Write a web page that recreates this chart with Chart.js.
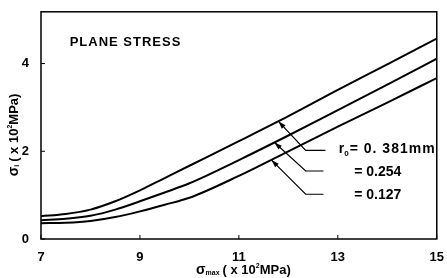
<!DOCTYPE html>
<html>
<head>
<meta charset="utf-8">
<script src="https://cdn.jsdelivr.net/npm/chart.js@4/dist/chart.umd.min.js"></script>
<style>
  html, body { margin: 0; padding: 0; background: #fff; }
  #wrap { width: 447px; height: 278px; }
</style>
</head>
<body>
<div id="wrap"><canvas id="chart" width="447" height="278"></canvas></div>
<script>
// sigma_max (x 10^2 MPa)
const sigmaMax = [7, 7.5, 8, 8.5, 9, 9.5, 10, 11, 12, 13, 14, 15];
// sigma_i (x 10^2 MPa) for each notch radius
const r381 = [0.52, 0.57, 0.67, 0.86, 1.11, 1.39, 1.67, 2.23, 2.8, 3.4, 3.98, 4.57];
const r254 = [0.43, 0.46, 0.53, 0.67, 0.86, 1.06, 1.27, 1.8, 2.36, 2.94, 3.52, 4.11];
const r127 = [0.36, 0.37, 0.41, 0.5, 0.63, 0.78, 0.94, 1.44, 2.0, 2.56, 3.11, 3.67];

const xTicks = [7, 9, 11, 13, 15];
const yTicks = [0, 2, 4];

// leader lines: tip on curve, elbow, end, in data units
const leaders = [
    { tip: [11.8, 2.68], elbow: [12.35, 2.02], end: [12.75, 2.02] },
    { tip: [11.72, 2.2], elbow: [12.35, 1.55], end: [12.71, 1.55] },
    { tip: [11.66, 1.8], elbow: [12.35, 1.02], end: [12.71, 1.02] }
];

const FONT = '"Liberation Sans", Arial, sans-serif';

function pts(ys) {
    return sigmaMax.map((x, i) => ({ x: x, y: ys[i] }));
}

function lineSet(ys) {
    return {
        data: pts(ys),
        borderColor: '#000',
        borderWidth: 2,
        pointRadius: 0,
        cubicInterpolationMode: 'monotone',
        fill: false
    };
}

// draws text parts (with sub / sup pieces), returns width
function richText(ctx, parts, x, y, measureOnly) {
    let cx = x;
    parts.forEach(p => {
        ctx.font = p.font;
        ctx.letterSpacing = p.ls || '0px';
        const w = ctx.measureText(p.t).width;
        if (!measureOnly) ctx.fillText(p.t, cx, y + (p.dy || 0));
        cx += w + (p.gap || 0);
    });
    ctx.letterSpacing = '0px';
    return cx - x;
}

const decorPlugin = {
    id: 'decor',
    afterDraw(chart) {
        const ctx = chart.ctx;
        const xs = chart.scales.x, ys = chart.scales.y;
        const a = chart.chartArea;
        ctx.save();
        ctx.strokeStyle = '#000';
        ctx.fillStyle = '#000';

        // frame
        ctx.lineWidth = 1.5;
        ctx.strokeRect(a.left, a.top, a.right - a.left, a.bottom - a.top);

        // small inner ticks
        ctx.lineWidth = 1;
        xTicks.forEach(v => {
            const px = xs.getPixelForValue(v);
            ctx.beginPath(); ctx.moveTo(px, a.bottom); ctx.lineTo(px, a.bottom - 4); ctx.stroke();
        });
        yTicks.forEach(v => {
            const py = ys.getPixelForValue(v);
            ctx.beginPath(); ctx.moveTo(a.left, py); ctx.lineTo(a.left + 4, py); ctx.stroke();
        });

        // title inside plot
        ctx.font = 'bold 13px ' + FONT;
        ctx.textBaseline = 'middle';
        ctx.textAlign = 'left';
        ctx.letterSpacing = '1px';
        ctx.fillText('PLANE STRESS', xs.getPixelForValue(7.58), ys.getPixelForValue(4.49));
        ctx.letterSpacing = '0px';

        // leader lines with arrow heads
        ctx.lineWidth = 1.2;
        leaders.forEach(l => {
            const tx = xs.getPixelForValue(l.tip[0]), ty = ys.getPixelForValue(l.tip[1]);
            const ex = xs.getPixelForValue(l.elbow[0]), ey = ys.getPixelForValue(l.elbow[1]);
            const nx = xs.getPixelForValue(l.end[0]), ny = ys.getPixelForValue(l.end[1]);
            ctx.beginPath();
            ctx.moveTo(nx, ny); ctx.lineTo(ex, ey); ctx.lineTo(tx, ty);
            ctx.stroke();
            const ang = Math.atan2(ty - ey, tx - ex);
            const len = 8, spread = 0.32;
            ctx.beginPath();
            ctx.moveTo(tx, ty);
            ctx.lineTo(tx - len * Math.cos(ang - spread), ty - len * Math.sin(ang - spread));
            ctx.lineTo(tx - len * Math.cos(ang + spread), ty - len * Math.sin(ang + spread));
            ctx.closePath();
            ctx.fill();
        });

        // radius labels
        const big = 'bold 14px ' + FONT;
        const small = 'bold 8px ' + FONT;
        ctx.textBaseline = 'middle';
        let lx = xs.getPixelForValue(13.02), ly = ys.getPixelForValue(2.04);
        richText(ctx, [
            { t: 'r', font: big },
            { t: '0', font: small, dy: 4, gap: 1 },
            { t: '= 0. 381mm', font: big, ls: '1px' }
        ], lx, ly);
        lx = xs.getPixelForValue(13.33);
        ctx.font = big;
        ctx.fillText('= 0.254', lx, ys.getPixelForValue(1.52));
        ctx.fillText('= 0.127', lx, ys.getPixelForValue(0.99));

        // x axis title
        const tBig = 'bold 13px ' + FONT;
        const tSmall = 'bold 7px ' + FONT;
        const xParts = [
            { t: 'σ', font: 'bold 14px ' + FONT },
            { t: 'max', font: tSmall, dy: 3, gap: 3 },
            { t: '( x 10', font: tBig },
            { t: '2', font: tSmall, dy: -4 },
            { t: 'MPa)', font: tBig }
        ];
        ctx.textBaseline = 'middle';
        richText(ctx, xParts, 196, 270);

        // y axis title (rotated)
        const yParts = [
            { t: 'σ', font: 'bold 14px ' + FONT },
            { t: 'i', font: tSmall, dy: 3, gap: 3 },
            { t: '( x 10', font: tBig },
            { t: '2', font: tSmall, dy: -4 },
            { t: 'MPa)', font: tBig }
        ];
        const yw = richText(ctx, yParts, 0, 0, true);
        ctx.translate(14, 135);
        ctx.rotate(-Math.PI / 2);
        richText(ctx, yParts, -yw / 2, 0);
        ctx.restore();
    }
};

new Chart(document.getElementById('chart'), {
    type: 'line',
    data: {
        datasets: [lineSet(r381), lineSet(r254), lineSet(r127)]
    },
    options: {
        responsive: false,
        animation: false,
        layout: { padding: { top: 11, right: 3, left: 0, bottom: 0 } },
        plugins: { legend: { display: false }, tooltip: { enabled: false } },
        scales: {
            x: {
                type: 'linear',
                min: 7,
                max: 15,
                afterFit: s => { s.height = 39; },
                afterBuildTicks: s => { s.ticks = xTicks.map(v => ({ value: v })); },
                grid: { display: false },
                border: { display: false },
                ticks: {
                    padding: 3,
                    color: '#000',
                    font: { family: FONT, size: 13, weight: 'bold' }
                }
            },
            y: {
                type: 'linear',
                min: 0,
                max: 5.18,
                afterFit: s => { s.width = 41; },
                afterBuildTicks: s => { s.ticks = yTicks.map(v => ({ value: v })); },
                grid: { display: false },
                border: { display: false },
                ticks: {
                    padding: 4,
                    color: '#000',
                    font: { family: FONT, size: 13, weight: 'bold' }
                }
            }
        }
    },
    plugins: [decorPlugin]
});
</script>
</body>
</html>
